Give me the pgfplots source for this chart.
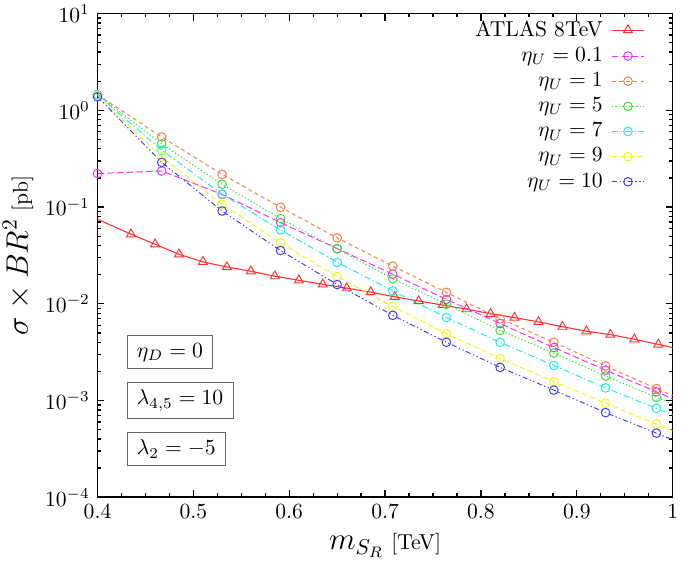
\documentclass[border=0pt]{standalone}
\usepackage{pgfplots}
\pgfplotsset{compat=1.18}

% line colours of the seven series
\definecolor{cAtlas}{RGB}{255,50,50}
\definecolor{cEtaA}{RGB}{255,40,255}
\definecolor{cEtaB}{RGB}{255,120,70}
\definecolor{cEtaC}{RGB}{40,235,40}
\definecolor{cEtaD}{RGB}{30,235,235}
\definecolor{cEtaE}{RGB}{245,245,20}
\definecolor{cEtaF}{RGB}{60,60,255}

% ATLAS 8 TeV limit (first and last rows lie just outside the x range)
\pgfplotstableread{
m      s
0.385  0.087
0.410  0.0676
0.435  0.0524
0.460  0.0413
0.485  0.0325
0.510  0.0271
0.535  0.0240
0.560  0.0217
0.585  0.0193
0.610  0.0175
0.635  0.0159
0.660  0.0145
0.685  0.0132
0.710  0.0118
0.735  0.0107
0.760  0.0097
0.785  0.0088
0.810  0.0079
0.835  0.0072
0.860  0.0065
0.885  0.0058
0.910  0.0052
0.935  0.0048
0.960  0.0043
0.985  0.0038
1.010  0.00336
}\atlas

% sigma x BR^2 for the eta_U scan (last row lies beyond m = 1 TeV)
\pgfplotstableread{
m      e01      e1       e5       e7       e9       e10
0.400  0.222    1.45     1.45     1.45     1.42     1.38
0.467  0.236    0.53     0.45     0.386    0.33     0.29
0.530  0.135    0.218    0.172    0.136    0.107    0.091
0.591  0.069    0.0995   0.076    0.058    0.0426   0.0355
0.650  0.0372   0.048    0.037    0.0269   0.0191   0.0158
0.708  0.0202   0.0245   0.0181   0.0136   0.0094   0.0076
0.764  0.0111   0.0131   0.0099   0.0072   0.0049   0.0040
0.820  0.00625  0.0070   0.0053   0.0040   0.00272  0.0022
0.876  0.00353  0.0040   0.0031   0.0023   0.00157  0.00128
0.930  0.00206  0.00228  0.00179  0.00135  0.00094  0.00075
0.983  0.00123  0.00133  0.00108  0.00083  0.00057  0.00046
1.036  0.00073  0.00078  0.00065  0.00051  0.00035  0.00028
}\scan

\pgfplotsset{
  sample/.style={
    legend image code/.code={
      \path (0pt,0pt);
      \draw[##1, mark indices={2}] plot coordinates {(2pt,0pt) (9.4pt,0pt) (16.8pt,0pt)};
    }
  },
  circ/.style={line width=0.45pt, mark=o, mark size=2pt,
    mark options={solid, line width=0.45pt},
    mark indices={1,2,3,4,5,6,7,8,9,10,11}, sample},
}

\begin{document}
\begin{tikzpicture}
\begin{axis}[
  scale only axis,
  width=266.3pt, height=223.9pt,
  xmin=0.4, xmax=1,
  ymode=log, ymin=1e-4, ymax=10,
  xtick={0.4,0.5,0.6,0.7,0.8,0.9,1},
  minor x tick num=3,
  tick align=inside,
  major tick length=3.2pt, minor tick length=1.8pt,
  axis line style={line width=0.7pt},
  every tick/.style={line width=0.6pt, black},
  xlabel={\Large$m_{S_R}$\normalsize\ [TeV]},
  ylabel={\Large$\sigma\times BR^2$\normalsize\ [pb]},
  ylabel style={at={(rel axis cs:-0.1382,0.5)}, anchor=center},
  legend cell align=right,
  legend plot pos=right,
  legend style={draw=none, fill=none, at={(rel axis cs:0.963,1.004)},
    anchor=north east, row sep=-0.3pt, font=\normalsize},
]
\addplot[cAtlas, line width=0.5pt, mark=triangle, mark size=2.4pt,
  mark options={solid, line width=0.45pt},
  mark indices={2,3,4,5,6,7,8,9,10,11,12,13,14,15,16,17,18,19,20,21,22,23,24,25},
  sample] table[x=m, y=s] {\atlas};
\addlegendentry{ATLAS 8TeV}

\addplot[cEtaA, circ, dash pattern=on 3pt off 1.5pt] table[x=m, y=e01] {\scan};
\addlegendentry{$\eta_U = 0.1$}

\addplot[cEtaB, circ, dash pattern=on 1.8pt off 1.5pt] table[x=m, y=e1] {\scan};
\addlegendentry{$\eta_U = 1$}

\addplot[cEtaC, circ, dash pattern=on 0.6pt off 1pt] table[x=m, y=e5] {\scan};
\addlegendentry{$\eta_U = 5$}

\addplot[cEtaD, circ, dash pattern=on 3pt off 1.2pt on 0.6pt off 1.2pt] table[x=m, y=e7] {\scan};
\addlegendentry{$\eta_U = 7$}

\addplot[cEtaE, circ, dash pattern=on 2.4pt off 1.5pt] table[x=m, y=e9] {\scan};
\addlegendentry{$\eta_U = 9$}

\addplot[cEtaF, circ, dash pattern=on 2.4pt off 1.2pt on 0.6pt off 1.2pt on 0.6pt off 1.2pt] table[x=m, y=e10] {\scan};
\addlegendentry{$\eta_U = 10$}

% parameter boxes
\node[draw=black!60, fill=white, anchor=west, inner xsep=4.5pt,
  minimum height=15pt] at (rel axis cs:0.0508,0.300) {$\eta_D = 0$};
\node[draw=black!60, fill=white, anchor=west, inner xsep=4.5pt,
  minimum height=16.5pt] at (rel axis cs:0.0508,0.2003) {$\lambda_{4,5} = 10$};
\node[draw=black!60, fill=white, anchor=west, inner xsep=4.5pt,
  minimum height=15pt] at (rel axis cs:0.0508,0.0999) {$\lambda_{2} = -5$};
\end{axis}
\pgfresetboundingbox
\path[use as bounding box] (-45.14pt,-31.39pt) rectangle (270.6pt,230.2pt);
\end{tikzpicture}
\end{document}
